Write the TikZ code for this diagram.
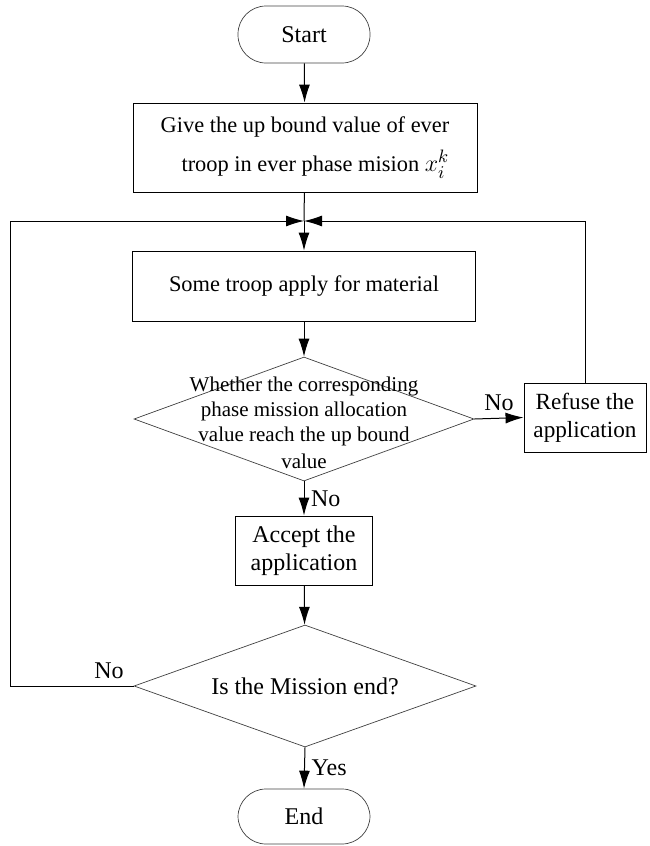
\documentclass[tikz,border=0pt]{standalone}
\usepackage{fontspec}
\setmainfont{Liberation Serif}
\usetikzlibrary{arrows.meta,shapes.geometric}

\begin{document}
\begin{tikzpicture}[x=0.5pt, y=-0.5pt,
		font=\fontsize{12}{14}\selectfont,
		term/.style={draw=black!75, line width=0.35pt, rounded corners=14pt, minimum width=66pt, inner sep=0pt},
		proc/.style={draw, line width=0.45pt, align=center, inner sep=0pt},
		decision/.style={draw=black!75, line width=0.35pt, diamond, aspect=2.8, inner sep=0pt},
		arr/.style={-{Latex[length=9pt,width=5.5pt]}, line width=0.5pt}]
				\useasboundingbox (0,0) rectangle (649,846);
				\node[term, minimum height=28.5pt] (start) at (304,34.5) {Start};
				\node[proc, minimum width=172pt, minimum height=44.5pt, align=right, font=\fontsize{11.2}{13.5}\selectfont] (give) at (305,147.5) {Give the up bound value of ever\\[6pt]troop in ever phase mision {\fontsize{13}{13}\selectfont$x_i^k$}};
				\node[proc, minimum width=171.5pt, minimum height=35pt, font=\fontsize{11.2}{13.5}\selectfont] (apply) at (304,286) {Some troop apply for material};
				\node[decision, minimum width=170pt, minimum height=62pt] (check) at (304,419) {};
				\node[align=center, font=\fontsize{10.5}{12.5}\selectfont] (checktext) at (304,423) {Whether the corresponding\\phase mission allocation\\value reach the up bound\\[1pt]value};
				\node[proc, minimum width=61pt, minimum height=34.5pt, font=\fontsize{11.6}{14}\selectfont] (refuse) at (585,417.5) {Refuse the\\application};
				\node[proc, minimum width=68.5pt, minimum height=34.5pt] (accept) at (304,550.5) {Accept the\\application};
				\node[decision, minimum width=171pt, minimum height=61pt] (mission) at (305,686) {Is the Mission end?};
				\node[term, minimum height=27.5pt] (stop) at (304,816.5) {End};
				\coordinate (join) at (304,221);
				\coordinate (loopL) at (10,686);
				\draw[arr] (start) -- (give);
				\draw[line width=0.5pt] (give) -- (join);
				\draw[arr] (join) -- (apply);
				\draw[arr] (apply) -- (check);
				\draw[arr] (check.east) -- (refuse.west) node[midway, above] {No};
				\draw[arr] (refuse.north) |- (join);
				\draw[arr] (check.south) -- (accept.north) node[midway, right] {No};
				\draw[arr] (accept) -- (mission);
				\draw[arr] (mission.west) -- node[pos=0.2, above] {No} (loopL) |- (join);
				\draw[arr] (mission.south) -- (stop.north) node[midway, right] {Yes};
			\end{tikzpicture}
\end{document}
